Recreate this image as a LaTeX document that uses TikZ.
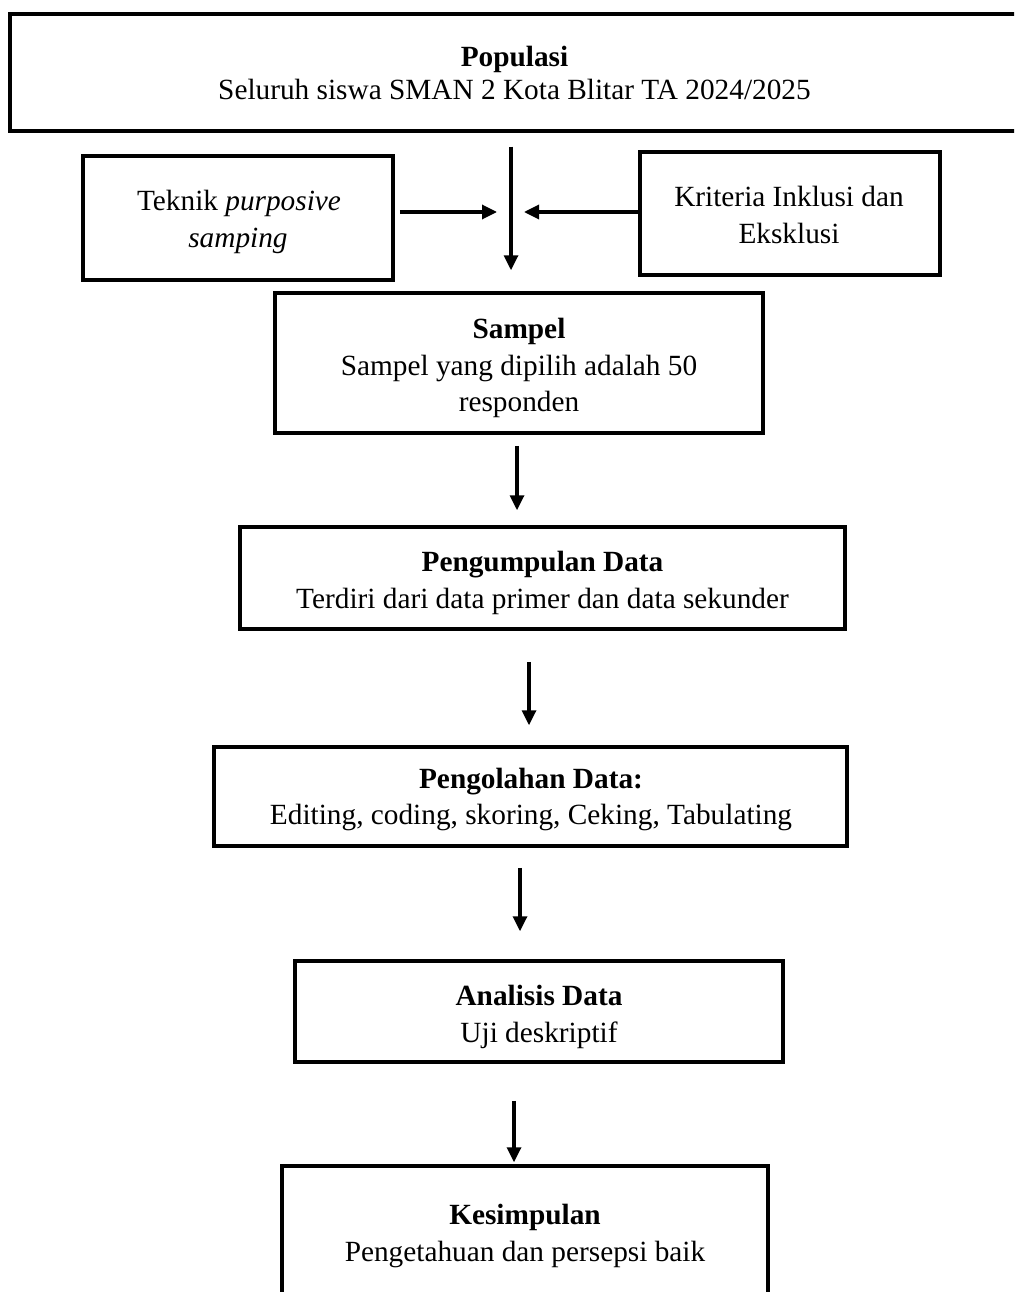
\documentclass[tikz,border=0pt]{standalone}
\usepackage{fontspec}
\setmainfont{Liberation Serif}
\usetikzlibrary{arrows.meta}
\begin{document}
\begin{tikzpicture}[x=1pt,y=-1pt]
\tikzset{
  frame/.style={draw=black, line width=3.5pt, inner sep=0pt, rectangle},
  txt/.style={anchor=base, inner sep=0pt, font=\fontsize{29.3pt}{35pt}\selectfont},
  hd/.style={anchor=base, inner sep=0pt, font=\fontsize{29.3pt}{35pt}\selectfont\bfseries},
  arr/.style={line width=3.3pt, -{Triangle[length=15pt,width=14pt]}}
}
\clip (0,0) rectangle (1014,1292);
\fill[white] (0,0) rectangle (1014,1292);

% boxes
\node[frame, minimum width=1009pt, minimum height=117pt] (pop) at (514.5,72.5) {};
\node[frame, minimum width=310pt, minimum height=124pt] (tek) at (238,218) {};
\node[frame, minimum width=300pt, minimum height=123pt] (kri) at (790,213.5) {};
\node[frame, minimum width=488pt, minimum height=140pt] (sam) at (519,363) {};
\node[frame, minimum width=605pt, minimum height=102pt] (peng) at (542.5,578) {};
\node[frame, minimum width=633pt, minimum height=99pt] (olah) at (530.5,796.5) {};
\node[frame, minimum width=488pt, minimum height=101pt] (anal) at (539,1011.5) {};
\node[frame, minimum width=486pt, minimum height=154pt] (kes) at (525,1243) {};

% texts
\node[hd] (popA) at (514.5,67) {Populasi};
\node[txt] (popB) at (514.5,100) {Seluruh siswa SMAN 2 Kota Blitar TA 2024/2025};
\node[txt] (tekA) at (239,211) {Teknik \textit{purposive}};
\node[txt] (tekB) at (238,247) {\textit{samping}};
\node[txt] (kriA) at (789,207) {Kriteria Inklusi dan};
\node[txt] (kriB) at (789,243) {Eksklusi};
\node[hd] (samA) at (519,338) {Sampel};
\node[txt] (samB) at (519,375) {Sampel yang dipilih adalah 50};
\node[txt] (samC) at (519,411) {responden};
\node[hd] (pgA) at (542.5,571) {Pengumpulan Data};
\node[txt] (pgB) at (542.5,608) {Terdiri dari data primer dan data sekunder};
\node[hd] (olA) at (531,788) {Pengolahan Data:};
\node[txt] (olB) at (531,824) {Editing, coding, skoring, Ceking, Tabulating};
\node[hd] (anA) at (539,1005) {Analisis Data};
\node[txt] (anB) at (539,1042) {Uji deskriptif};
\node[hd] (ksA) at (525,1224) {Kesimpulan};
\node[txt] (ksB) at (525,1261) {Pengetahuan dan persepsi baik};

% connectors
\coordinate (mid) at (511,212);
\coordinate (x2) at (517,0);
\coordinate (x3) at (529,0);
\coordinate (x4) at (520,0);
\coordinate (x5) at (514,0);
\draw[arr, shorten <=14pt, shorten >=21pt] (pop.south -| mid) -- (sam.north -| mid);
\draw[arr, shorten <=5pt, shorten >=14pt] (tek.east |- mid) -- (mid);
\draw[arr, shorten >=13pt] (kri.west |- mid) -- (mid);
\draw[arr, shorten <=11pt, shorten >=15pt] (sam.south -| x2) -- (peng.north -| x2);
\draw[arr, shorten <=31pt, shorten >=20pt] (peng.south -| x3) -- (olah.north -| x3);
\draw[arr, shorten <=20pt, shorten >=28pt] (olah.south -| x4) -- (anal.north -| x4);
\draw[arr, shorten <=37pt, shorten >=2pt] (anal.south -| x5) -- (kes.north -| x5);
\end{tikzpicture}
\end{document}
